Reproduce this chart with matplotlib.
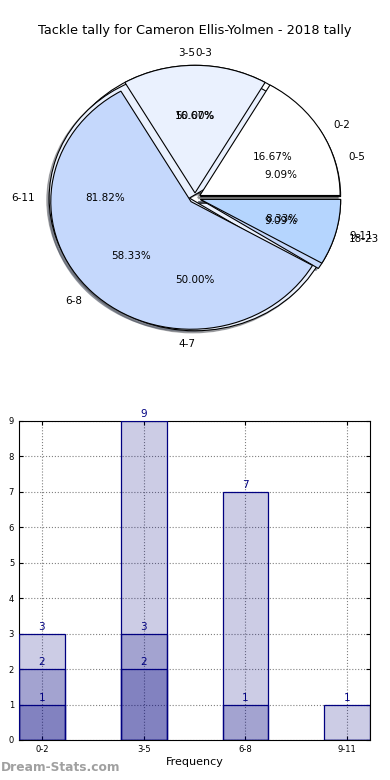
import matplotlib
matplotlib.use('Agg')
import matplotlib.pyplot as plt
import numpy as np

# pie data (three overlaid pies, last drawn on top)
pie_a_labels = ['0-3', '4-7']
pie_a_vals = [1, 1]
pie_b_labels = ['0-5', '6-11', '18-23']
pie_b_vals = [1, 9, 1]
pie_c_labels = ['0-2', '3-5', '6-8', '9-11']
pie_c_vals = [2, 2, 7, 1]
pie_colors = ['#ffffff', '#eaf1fe', '#c5d8fc', '#b5d5fe']

# bar data (overlapping series drawn from zero)
bar_cats = ['0-2', '3-5', '6-8', '9-11']
series_1 = [3, 9, 7, 1]
series_2 = [2, 3, 1, 0]
series_3 = [1, 2, 0, 0]

fig = plt.figure(figsize=(3.9, 7.8), dpi=100)
fig.text(0.5, 0.9615, 'Tackle tally for Cameron Ellis-Yolmen - 2018 tally',
         ha='center', va='center', fontsize=9.3)

ax1 = fig.add_axes([0.0505, 0.5416, 0.899, 0.409])
for vals, labs in [(pie_a_vals, pie_a_labels), (pie_b_vals, pie_b_labels),
                   (pie_c_vals, pie_c_labels)]:
    wedges, texts, autotexts = ax1.pie(
        vals, labels=labs, colors=pie_colors[:len(vals)],
        explode=[0.04] * len(vals), autopct='%1.2f%%',
        shadow={'ox': -0.012, 'oy': -0.012, 'shade': 0.6},
        wedgeprops={'edgecolor': 'black', 'linewidth': 0.8},
        textprops={'fontsize': 7.5})
    # labels sitting exactly on the vertical axis, aligned like the original
    for t in texts:
        if t.get_text() in ('3-5', '4-7'):
            t.set_ha('right')
        elif t.get_text() == '0-3':
            t.set_ha('left')
ax1.set_aspect('auto')
ax1.set_xlim(-1.25, 1.25)
ax1.set_ylim(-1.25, 1.25)

ax2 = fig.add_axes([0.0487, 0.0513, 0.9003, 0.409])
x = np.arange(len(bar_cats))
w = 0.45
for s in [series_1, series_2, series_3]:
    ax2.bar(x, s, w, color='navy', alpha=0.2, edgecolor='none', zorder=2)
    ax2.bar(x, s, w, color='none', edgecolor='navy', linewidth=0.9, zorder=3)
    for xi, v in zip(x, s):
        if v > 0:
            ax2.text(xi, v + 0.05, str(v), ha='center', va='bottom',
                     color='navy', fontsize=7.5, zorder=4)
ax2.set_xlim(-w / 2, len(bar_cats) - 1 + w / 2)
ax2.set_ylim(0, 9)
ax2.set_xticks(x)
ax2.set_xticklabels(bar_cats)
ax2.set_yticks(range(10))
ax2.tick_params(direction='in', top=True, right=True, labelsize=6, length=3)
ax2.grid(True, linestyle=':', color='gray', linewidth=0.8, zorder=0)
ax2.set_axisbelow(True)
ax2.set_xlabel('Frequency', fontsize=8, labelpad=2)

fig.text(0.002, 0.008, 'Dream-Stats.com', color='#a0a0a0', fontsize=8.8,
         fontweight='bold', ha='left', va='bottom')

fig.savefig('out.png', dpi=100)
